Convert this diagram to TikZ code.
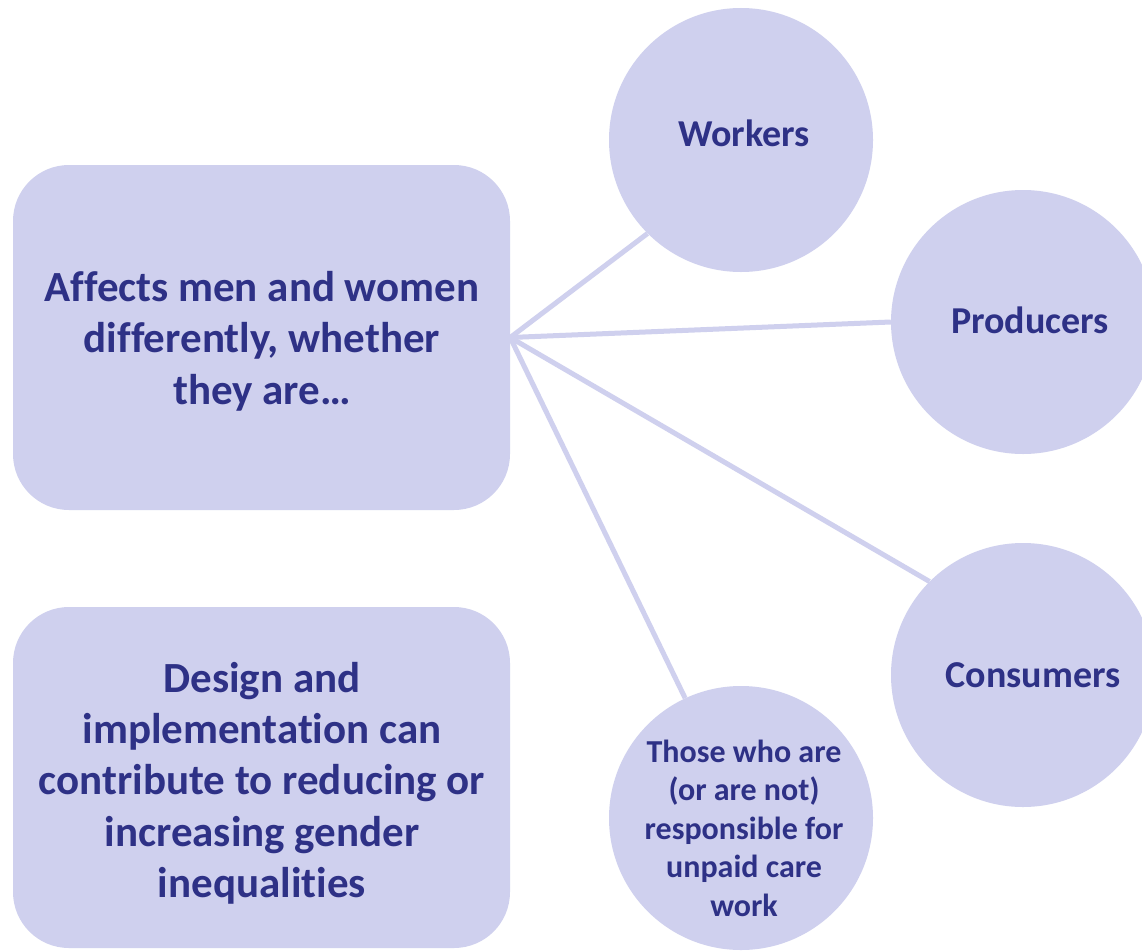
\documentclass[tikz,border=0pt]{standalone}
\usepackage{fontspec}
\setmainfont{Carlito}[Ligatures=NoCommon]
\definecolor{pfill}{RGB}{207,208,238}
\definecolor{ptext}{RGB}{46,49,134}
\begin{document}
\begin{tikzpicture}[x=1pt,y=-1pt,
  box/.style={fill=pfill, rounded corners=56pt, minimum width=497pt, minimum height=345pt,
    inner sep=0pt, text=ptext, font=\bfseries\fontsize{43}{51.3}\selectfont, align=center},
  bubble/.style={circle, fill=pfill, minimum size=264pt, inner sep=0pt},
  lbl/.style={text=ptext, font=\bfseries\fontsize{38}{45}\selectfont, align=center},
  small/.style={text=ptext, font=\bfseries\fontsize{32}{38.5}\selectfont, align=center},
  link/.style={draw=pfill, line width=5pt}]
\useasboundingbox (0,0) rectangle (1142,950);
\clip (0,0) rectangle (1142,950);
\fill[white] (0,0) rectangle (1142,950);

\node[box] (affects) at (261.5,337.5) {};
\node[text=ptext, font=\bfseries\fontsize{43}{51.3}\selectfont, align=center] (affectstext) at (262,341) {Affects men and women\\differently, whether\\they are…};
\node[box, minimum height=341pt] (design) at (261.5,777.5) {};
\node[text=ptext, font=\bfseries\fontsize{43}{51.3}\selectfont, align=center] (designtext) at (262,783) {Design and\\implementation can\\contribute to reducing or\\increasing gender\\inequalities};

\node[bubble, label={[lbl, xshift=3pt, yshift=7pt]center:Workers}] (workers) at (741,140) {};
\node[bubble, label={[lbl, xshift=7pt, yshift=2pt]center:Producers}] (producers) at (1023,322) {};
\node[bubble, label={[lbl, xshift=10pt]center:Consumers}] (consumers) at (1023,675) {};
\node[bubble, label={[small, xshift=3pt, yshift=-10pt]center:Those who are\\(or are not)\\responsible for\\unpaid care\\work}] (those) at (741,818) {};

\draw[link] (affects.east) -- (workers.225);
\draw[link] (affects.east) -- (producers.180);
\draw[link] (affects.east) -- (consumers.135);
\draw[link] (affects.east) -- (those.115);
\end{tikzpicture}
\end{document}
